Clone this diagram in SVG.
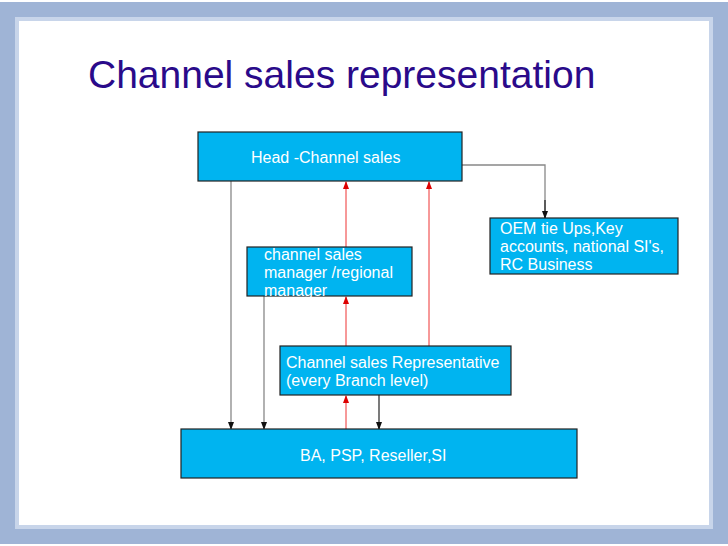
<svg xmlns="http://www.w3.org/2000/svg" width="728" height="546" viewBox="0 0 728 546">
<defs>
<style>
.box{fill:#00b4f0;stroke:#222;stroke-width:1.2}
.t{font-family:"Liberation Sans",Arial,sans-serif;font-size:16px;fill:#fff}
.g{stroke:#888;stroke-width:1.3;fill:none}
.k{stroke:#222;stroke-width:1.2;fill:none}
.r{stroke:#e33;stroke-width:1;fill:none}
</style>
<marker id="ak" markerWidth="8" markerHeight="8" refX="4" refY="7" markerUnits="userSpaceOnUse" viewBox="0 0 8 8"><path d="M1,0 L7,0 L4,8 Z" fill="#111"/></marker>
<marker id="ar" markerWidth="8" markerHeight="8" refX="4" refY="1" markerUnits="userSpaceOnUse" viewBox="0 0 8 8"><path d="M1,8 L7,8 L4,0 Z" fill="#d00"/></marker>
</defs>
<rect width="728" height="546" fill="#fff"/>
<rect x="8" y="10" width="712" height="526" fill="none" stroke="#9fb4d6" stroke-width="16"/>
<rect x="17" y="19" width="694" height="508" fill="none" stroke="#c8d5ea" stroke-width="4"/>
<text x="88" y="88" font-family="'Liberation Sans',Arial,sans-serif" font-size="39" fill="#2a0a8a">Channel sales representation</text>
<g id="connectors">
<polyline class="g" points="462,165 545,165 545,218"/>
<line class="k" x1="545" y1="200" x2="545" y2="218" marker-end="url(#ak)"/>
<line class="g" x1="231" y1="181" x2="231" y2="429" marker-end="url(#ak)"/>
<line class="g" x1="264" y1="296" x2="264" y2="429" marker-end="url(#ak)"/>
<line class="k" x1="379" y1="395" x2="379" y2="429" marker-end="url(#ak)"/>
<line class="r" x1="346" y1="247" x2="346" y2="182" marker-end="url(#ar)"/>
<line class="r" x1="346" y1="346" x2="346" y2="297" marker-end="url(#ar)"/>
<line class="r" x1="429" y1="346" x2="429" y2="182" marker-end="url(#ar)"/>
<line class="r" x1="346" y1="429" x2="346" y2="396" marker-end="url(#ar)"/>
</g>
<g id="head"><rect class="box" x="198" y="132" width="264" height="49"/><text class="t" x="251" y="163">Head -Channel sales</text></g>
<g id="oem"><rect class="box" x="490" y="218" width="188" height="56"/><text class="t" x="500" y="234">OEM tie Ups,Key</text><text class="t" x="500" y="252">accounts, national SI's,</text><text class="t" x="500" y="270">RC Business</text></g>
<g id="manager"><rect class="box" x="247" y="247" width="165" height="49"/><text class="t" x="264" y="260">channel sales</text><text class="t" x="264" y="278">manager /regional</text><text class="t" x="264" y="296">manager</text></g>
<g id="rep"><rect class="box" x="280" y="346" width="231" height="49"/><text class="t" x="286" y="368">Channel sales Representative</text><text class="t" x="286" y="386">(every Branch level)</text></g>
<g id="ba"><rect class="box" x="181" y="429" width="396" height="49"/><text class="t" x="300" y="461">BA, PSP, Reseller,SI</text></g>
</svg>
